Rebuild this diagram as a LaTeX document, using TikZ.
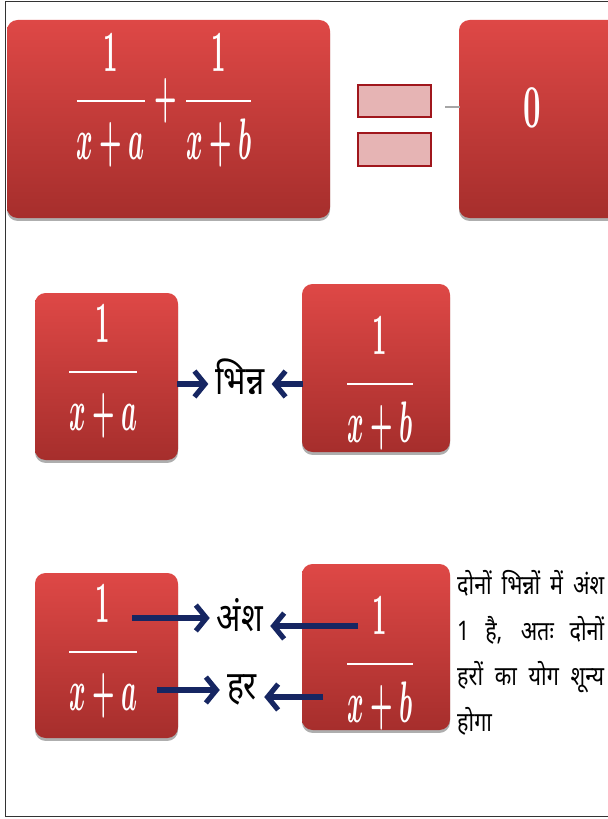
\documentclass[tikz,border=0pt]{standalone}
\usepackage{fontspec}
\newfontfamily\devfont[Script=Devanagari]{Noto Sans}
\usetikzlibrary{arrows.meta,shadows}

\definecolor{boxtop}{RGB}{222,72,70}
\definecolor{boxbot}{RGB}{166,46,44}
\definecolor{eqfill}{RGB}{230,180,180}
\definecolor{eqedge}{RGB}{160,22,28}
\definecolor{navy}{RGB}{22,38,98}

\tikzset{
  redbox/.style={top color=boxtop, bottom color=boxbot, rounded corners=9pt,
    drop shadow={shadow xshift=0pt, shadow yshift=-2.5pt, opacity=.45, fill=black!70}},
  fracnode/.style={text=white, inner sep=0pt},
  eqbar/.style={draw=eqedge, fill=eqfill, line width=1.8pt, inner sep=0pt,
    minimum width=2.2cm, minimum height=0.98cm},
  devlabel/.style={inner sep=6pt, font=\devfont\bfseries\fontsize{34}{36}\selectfont},
  notetext/.style={inner sep=0pt, align=left, font=\devfont\fontsize{23}{39}\selectfont},
  navyarr/.style={draw=navy, line width=4.4pt, -{Straight Barb[length=9pt,width=22pt]}}
}
\newcommand{\frc}[2]{\scalebox{2.15}[5]{\boldmath$\displaystyle\frac{#1}{#2}$}}
\newcommand{\devlbl}[1]{\scalebox{0.8}[1]{#1}}
\newcommand{\noteline}[1]{\scalebox{0.8}[1]{\makebox[5.51cm][s]{#1}}}

\begin{document}
\begin{tikzpicture}[x=0.03cm, y=-0.03cm]
  \useasboundingbox (0,0) rectangle (607,819);

  % outer frame
  \draw[black!80, line width=0.8pt] (5,1) rectangle (620,816);

  % top row: sum of fractions = 0
  \path[redbox] (7,20) rectangle (330,218);
  \node[fracnode] (sum) at (164,101) {\scalebox{2.15}[5]{\boldmath$\displaystyle\frac{1}{x+a}+\frac{1}{x+b}$}};
  \node[eqbar] (eqA) at (394.5,101) {};
  \node[eqbar] (eqB) at (394.5,149.5) {};
  \path[redbox] (459,20) rectangle (630,218);
  \node[fracnode] (zero) at (532,108) {\scalebox{2.6}[5.2]{\boldmath$0$}};
  \coordinate (stub) at (445,107);
  \draw[gray!70, line width=1.4pt] (stub) -- ++(15,0);

  % middle row: both are fractions
  \path[redbox] (35,293) rectangle (178,460);
  \node[fracnode] (fa) at (103,372) {\frc{1}{x+a}};
  \path[redbox] (302,284) rectangle (450,452);
  \node[fracnode] (fb) at (380,384) {\frc{1}{x+b}};
  \node[devlabel] (bhinn) at (240,377) {\devlbl{भिन्न}};
  \coordinate (ma) at (177,384);
  \coordinate (mb) at (303,384);
  \draw[navyarr] (ma) -- (ma -| bhinn.west);
  \draw[navyarr] (mb) -- (mb -| bhinn.east);

  % bottom row: numerator and denominator
  \path[redbox] (35,573) rectangle (178,738);
  \node[fracnode] (ga) at (103,652) {\frc{1}{x+a}};
  \path[redbox] (302,564) rectangle (450,730);
  \node[fracnode] (gb) at (380,664) {\frc{1}{x+b}};
  \node[devlabel] (ansh) at (240,615) {\devlbl{अंश}};
  \node[devlabel] (har) at (242,690) {\devlbl{हर}};
  \coordinate (na) at (132,618);
  \coordinate (da) at (157,690);
  \coordinate (nb) at (358,626);
  \coordinate (db) at (323,697);
  \draw[navyarr] (na) -- (na -| ansh.west);
  \draw[navyarr] (da) -- (da -| har.west);
  \draw[navyarr] (nb) -- (nb -| ansh.east);
  \draw[navyarr] (db) -- (db -| har.east);

  % side note
  \node[notetext, anchor=north west] (note) at (457,570)
    {\noteline{दोनों भिन्नों में अंश}\\
     \noteline{1 है, अतः दोनों}\\
     \noteline{हरों का योग शून्य}\\
     \scalebox{0.8}[1]{होगा}};
\end{tikzpicture}
\end{document}
